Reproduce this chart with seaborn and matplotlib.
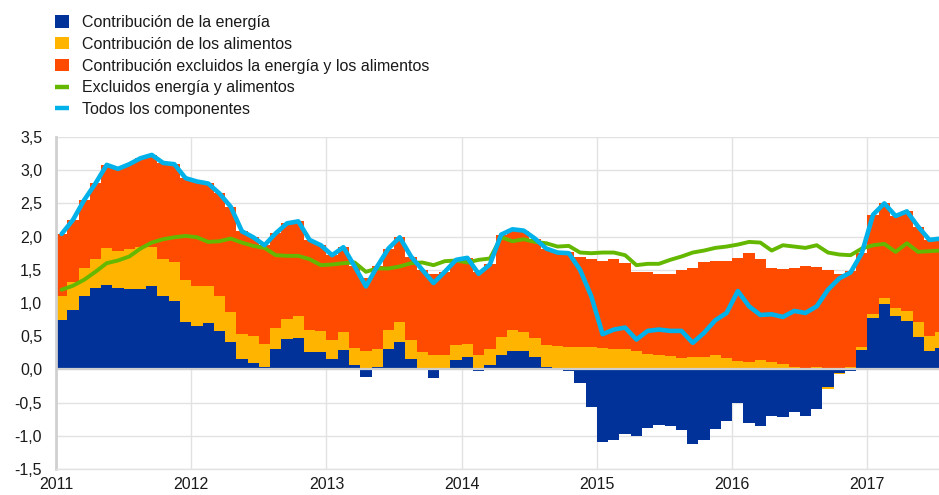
import numpy as np
import pandas as pd
import matplotlib
matplotlib.use("Agg")
import matplotlib.pyplot as plt
from matplotlib.patches import Patch
from matplotlib.lines import Line2D
from matplotlib.ticker import FuncFormatter, MultipleLocator
import seaborn as sns

# monthly data, Jan 2011 - Jul 2017 (percentage points / %)
energia = [
    0.74, 0.89, 1.10, 1.22, 1.27, 1.22, 1.21, 1.21, 1.26, 1.10, 1.03, 0.71,
    0.65, 0.70, 0.58, 0.42, 0.16, 0.10, 0.04, 0.31, 0.46, 0.48, 0.26, 0.26,
    0.15, 0.29, 0.07, -0.12, 0.03, 0.30, 0.41, 0.15, 0.00, -0.13, 0.00, 0.14,
    0.18, -0.03, 0.06, 0.22, 0.28, 0.27, 0.18, 0.04, 0.00, -0.02, -0.20, -0.56,
    -1.10, -1.06, -0.97, -1.01, -0.88, -0.84, -0.85, -0.91, -1.12, -1.06, -0.90, -0.78,
    -0.50, -0.80, -0.85, -0.70, -0.72, -0.64, -0.70, -0.59, -0.26, -0.05, -0.02, 0.29,
    0.77, 0.99, 0.80, 0.73, 0.49, 0.27, 0.32,
]
alimentos = [
    0.37, 0.42, 0.43, 0.45, 0.56, 0.56, 0.61, 0.63, 0.58, 0.56, 0.58, 0.64,
    0.61, 0.55, 0.52, 0.44, 0.38, 0.40, 0.35, 0.31, 0.30, 0.33, 0.33, 0.32,
    0.30, 0.27, 0.25, 0.27, 0.28, 0.29, 0.31, 0.30, 0.26, 0.21, 0.21, 0.22,
    0.21, 0.21, 0.24, 0.27, 0.32, 0.29, 0.30, 0.32, 0.35, 0.34, 0.34, 0.33,
    0.32, 0.31, 0.30, 0.27, 0.23, 0.21, 0.20, 0.17, 0.18, 0.19, 0.21, 0.17,
    0.12, 0.11, 0.14, 0.11, 0.08, 0.04, 0.02, 0.03, -0.03, -0.02, 0.03, 0.05,
    0.06, 0.08, 0.13, 0.15, 0.23, 0.23, 0.25,
]
resto = [
    0.93, 0.94, 1.02, 1.13, 1.25, 1.24, 1.27, 1.34, 1.39, 1.45, 1.48, 1.53,
    1.57, 1.55, 1.55, 1.59, 1.54, 1.49, 1.48, 1.43, 1.44, 1.42, 1.36, 1.29,
    1.27, 1.28, 1.23, 1.10, 1.24, 1.23, 1.27, 1.25, 1.24, 1.22, 1.26, 1.29,
    1.29, 1.26, 1.28, 1.54, 1.51, 1.53, 1.49, 1.46, 1.41, 1.43, 1.36, 1.33,
    1.31, 1.35, 1.30, 1.19, 1.23, 1.23, 1.23, 1.32, 1.34, 1.42, 1.43, 1.46,
    1.56, 1.64, 1.53, 1.42, 1.43, 1.48, 1.53, 1.51, 1.49, 1.44, 1.45, 1.41,
    1.50, 1.43, 1.38, 1.50, 1.43, 1.45, 1.40,
]
subyacente = [
    1.20, 1.26, 1.35, 1.47, 1.60, 1.64, 1.70, 1.82, 1.91, 1.96, 1.99, 2.01,
    1.99, 1.92, 1.93, 1.97, 1.91, 1.86, 1.83, 1.72, 1.71, 1.71, 1.66, 1.57,
    1.58, 1.60, 1.61, 1.47, 1.52, 1.52, 1.55, 1.60, 1.61, 1.57, 1.63, 1.64,
    1.61, 1.65, 1.67, 1.99, 1.93, 1.96, 1.92, 1.90, 1.85, 1.86, 1.76, 1.75,
    1.76, 1.76, 1.72, 1.57, 1.59, 1.59, 1.65, 1.70, 1.76, 1.79, 1.83, 1.85,
    1.88, 1.92, 1.91, 1.79, 1.87, 1.85, 1.83, 1.87, 1.76, 1.73, 1.72, 1.82,
    1.87, 1.89, 1.77, 1.90, 1.77, 1.78, 1.79,
]
total = [
    2.04, 2.25, 2.55, 2.80, 3.08, 3.02, 3.09, 3.18, 3.23, 3.11, 3.09, 2.88,
    2.83, 2.80, 2.65, 2.45, 2.08, 1.99, 1.87, 2.05, 2.20, 2.23, 1.95, 1.87,
    1.72, 1.84, 1.55, 1.25, 1.55, 1.82, 1.99, 1.70, 1.50, 1.30, 1.47, 1.65,
    1.68, 1.44, 1.58, 2.03, 2.11, 2.09, 1.97, 1.82, 1.76, 1.75, 1.50, 1.10,
    0.53, 0.60, 0.63, 0.45, 0.58, 0.60, 0.58, 0.58, 0.40, 0.55, 0.74, 0.85,
    1.18, 0.95, 0.82, 0.83, 0.79, 0.88, 0.85, 0.95, 1.20, 1.37, 1.46, 1.75,
    2.33, 2.50, 2.31, 2.38, 2.15, 1.95, 1.97,
]
years = ["2011", "2012", "2013", "2014", "2015", "2016", "2017"]

labels = [
    "Contribución de la energía",
    "Contribución de los alimentos",
    "Contribución excluidos la energía y los alimentos",
    "Excluidos energía y alimentos",
    "Todos los componentes",
]
colors = ["#003299", "#FFB400", "#FF4B00", "#65B800", "#00B1EA"]

sns.set_theme(style="whitegrid")
plt.rcParams["font.family"] = ["Liberation Sans", "DejaVu Sans"]

df = pd.DataFrame({"energia": energia, "alimentos": alimentos, "resto": resto,
                   "subyacente": subyacente, "total": total})
df["x"] = np.arange(len(df))

fig = plt.figure(figsize=(9.39, 4.95), dpi=100)
ax = fig.add_axes([56 / 939, 26 / 495, 1 - 56 / 939, 332 / 495])

# stacked bars, positives up from zero and negatives down from zero
pos_base = np.zeros(len(df))
neg_base = np.zeros(len(df))
for col, c in zip(["energia", "alimentos", "resto"], colors[:3]):
    v = df[col].to_numpy()
    bottom = np.where(v >= 0, pos_base, neg_base)
    ax.bar(df["x"], v, bottom=bottom, width=1.0, align="edge", color=c,
           linewidth=0, zorder=2)
    pos_base = pos_base + np.where(v >= 0, v, 0)
    neg_base = neg_base + np.where(v < 0, v, 0)

ax.axhline(0, color="#cfcfcf", lw=1.6, zorder=3)

sns.lineplot(x=df["x"] + 0.5, y=df["subyacente"], ax=ax, color=colors[3],
             lw=2.8, zorder=4)
sns.lineplot(x=df["x"] + 0.5, y=df["total"], ax=ax, color=colors[4],
             lw=3.3, zorder=5)

ax.set_xlim(0, 78.35)
ax.set_ylim(-1.5, 3.5)
ax.yaxis.set_major_locator(MultipleLocator(0.5))
ax.yaxis.set_major_formatter(FuncFormatter(lambda v, p: f"{v:.1f}".replace(".", ",")))
ax.set_xticks(np.arange(len(years)) * 12)
ax.set_xticklabels(years)
ax.set_xlabel("")
ax.set_ylabel("")

ax.grid(True, color="#e2e2e2", lw=1.0, zorder=0)
ax.set_axisbelow(True)
for s in ["top", "right"]:
    ax.spines[s].set_visible(False)
ax.spines["left"].set_color("#d0d0d0")
ax.spines["left"].set_linewidth(2.0)
ax.spines["bottom"].set_color("#e2e2e2")
ax.spines["bottom"].set_linewidth(1.0)
ax.tick_params(axis="both", length=0, labelsize=11.5, colors="#1a1a1a")
ax.tick_params(axis="y", pad=10)
ax.tick_params(axis="x", pad=6)

handles = [Patch(facecolor=c, edgecolor="none") for c in colors[:3]]
handles += [Line2D([0], [0], color=c, lw=3.2, solid_capstyle="butt") for c in colors[3:]]
fig.legend(handles, labels, loc="upper left", bbox_to_anchor=(55 / 939, 0.970),
           frameon=False, fontsize=11.5, handlelength=0.88, handleheight=0.82,
           handletextpad=0.8, labelspacing=0.43, borderpad=0, borderaxespad=0,
           labelcolor="#1a1a1a")

fig.savefig("out.png", dpi=100)
